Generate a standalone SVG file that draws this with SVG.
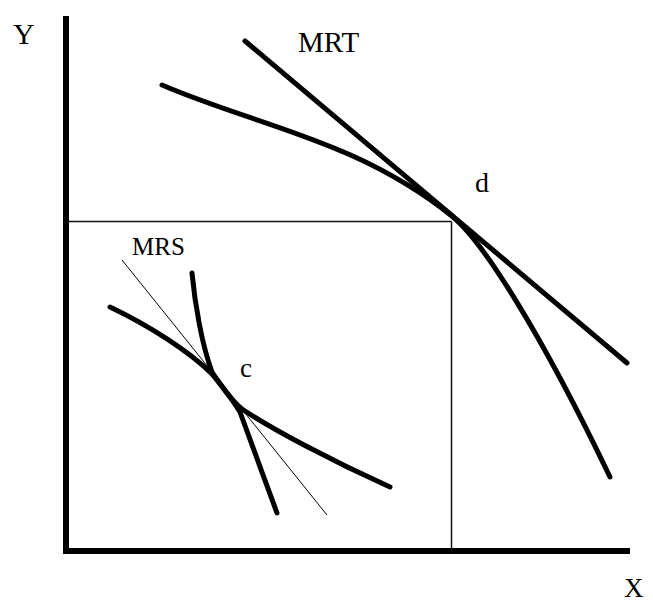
<svg xmlns="http://www.w3.org/2000/svg" width="653" height="603" viewBox="0 0 653 603">
<style>
.axis{stroke:#000;stroke-width:6;fill:none;stroke-linecap:square}
.thick{stroke:#000;stroke-width:5;fill:none;stroke-linecap:round;stroke-linejoin:round}
.thin{stroke:#111;stroke-width:1.5;fill:none}
.hair{stroke:#000;stroke-width:1;fill:none}
.lbl{font-family:"Liberation Serif","Times New Roman",serif;fill:#000}
</style>
<rect width="653" height="603" fill="#fff"/>
<g id="axes">
<line class="axis" x1="66" y1="19" x2="66" y2="551"/>
<line class="axis" x1="66" y1="551" x2="627" y2="551"/>
<text class="lbl" x="13" y="44" font-size="30">Y</text>
<text class="lbl" x="624" y="597" font-size="27">X</text>
</g>
<g id="guides">
<line class="thin" x1="66" y1="221.5" x2="451.5" y2="221.5"/>
<line class="thin" x1="451.5" y1="221.5" x2="451.5" y2="550"/>
</g>
<g id="ppf">
<path class="thick" d="M162,85 C257,126 358,140 453,217 C483,242 540,331 610,477"/>
</g>
<g id="mrt">
<line class="thick" x1="245" y1="41" x2="627" y2="363"/>
<text class="lbl" x="298" y="52" font-size="29">MRT</text>
</g>
<g id="point-d">
<text class="lbl" x="475" y="192" font-size="28">d</text>
</g>
<g id="mrs">
<line class="hair" x1="122" y1="260" x2="327" y2="515"/>
<text class="lbl" x="132" y="255" font-size="25">MRS</text>
</g>
<g id="curve-shallow">
<path class="thick" d="M110,307 C150,326 190,352 212,374 C222,385 230,400 242,409 C270,428 330,460 390,487"/>
</g>
<g id="curve-steep">
<path class="thick" d="M192,273 C195,305 202,345 212,372 C220,385 232,398 240,412 C250,440 265,480 277,513"/>
</g>
<g id="point-c">
<text class="lbl" x="240" y="377" font-size="27">c</text>
</g>
</svg>
